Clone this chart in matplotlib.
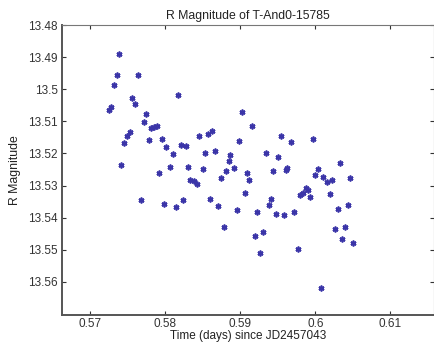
import matplotlib
matplotlib.use('Agg')
import matplotlib.pyplot as plt

# time (days since JD2457043) and R magnitude
time = [0.5739, 0.5736, 0.5764, 0.5732, 0.5756, 0.5760, 0.5818, 0.5725, 0.5728, 0.5775,
        0.5903, 0.5772, 0.5782, 0.5785, 0.5789, 0.5916, 0.5753, 0.5750, 0.5746, 0.5779,
        0.5796, 0.5845, 0.5857, 0.5863, 0.5899, 0.5954, 0.5968, 0.5997, 0.5802, 0.5821,
        0.5828, 0.5811, 0.5853, 0.5867, 0.5887, 0.5885, 0.5934, 0.5951, 0.5742, 0.5807,
        0.5831, 0.5850, 0.5892, 0.5963, 0.5961, 0.6033, 0.6004, 0.5792, 0.5881, 0.5909,
        0.5944, 0.6000, 0.6010, 0.6015, 0.6022, 0.6046, 0.5874, 0.5912, 0.5833, 0.5838,
        0.5842, 0.5906, 0.5988, 0.5990, 0.5984, 0.5980, 0.5993, 0.6019, 0.5768, 0.5860,
        0.5824, 0.5941, 0.5938, 0.5799, 0.5815, 0.5871, 0.6044, 0.5896, 0.5923, 0.6030,
        0.5948, 0.5958, 0.5972, 0.5878, 0.5920, 0.5930, 0.5927, 0.5977, 0.6026, 0.6040,
        0.6036, 0.6050, 0.6008]
rmag = [13.4891, 13.4957, 13.4955, 13.4988, 13.5027, 13.5046, 13.5019, 13.5064, 13.5056, 13.5077,
        13.5071, 13.5101, 13.5121, 13.5119, 13.5114, 13.5116, 13.5134, 13.5145, 13.5166, 13.5157,
        13.5155, 13.5147, 13.5139, 13.5130, 13.5162, 13.5147, 13.5163, 13.5156, 13.5181, 13.5173,
        13.5177, 13.5202, 13.5199, 13.5192, 13.5206, 13.5223, 13.5199, 13.5212, 13.5235, 13.5243,
        13.5241, 13.5249, 13.5245, 13.5246, 13.5251, 13.5229, 13.5247, 13.5262, 13.5255, 13.5261,
        13.5256, 13.5266, 13.5273, 13.5288, 13.5282, 13.5277, 13.5277, 13.5283, 13.5283, 13.5285,
        13.5295, 13.5324, 13.5308, 13.5315, 13.5322, 13.5329, 13.5337, 13.5327, 13.5344, 13.5341,
        13.5346, 13.5341, 13.5359, 13.5358, 13.5367, 13.5365, 13.5359, 13.5375, 13.5381, 13.5373,
        13.5387, 13.5391, 13.5383, 13.5429, 13.5458, 13.5446, 13.5511, 13.5497, 13.5435, 13.5429,
        13.5467, 13.5480, 13.5619]

xticks = [0.57, 0.58, 0.59, 0.60, 0.61]
xtick_labels = ['0.57', '0.58', '0.59', '0.6', '0.61']
yticks = [13.48, 13.49, 13.50, 13.51, 13.52, 13.53, 13.54, 13.55, 13.56]
ytick_labels = ['13.48', '13.49', '13.5', '13.51', '13.52', '13.53', '13.54', '13.55', '13.56']

plt.rcParams['font.family'] = ['Liberation Sans', 'DejaVu Sans']

fig = plt.figure(figsize=(4.35, 3.47), dpi=100)
ax = fig.add_axes([62/435, 1 - 315/347, 372/435, 290/347])

# matlab style asterisk markers
ax.plot(time, rmag, linestyle='none', marker=(6, 2, 0), markersize=4.2,
        color='#3b35a8', markeredgewidth=1.2)

ax.set_xlim(0.5663, 0.6158)
ax.set_ylim(13.5703, 13.48)
ax.set_xticks(xticks)
ax.set_xticklabels(xtick_labels)
ax.set_yticks(yticks)
ax.set_yticklabels(ytick_labels)
ax.tick_params(direction='in', top=True, right=True, length=3, width=0.8,
               labelsize=8.5, colors='#333333', pad=3)
ax.tick_params(axis='x', pad=2)
for side in ['left', 'bottom']:
    ax.spines[side].set_linewidth(1.4)
    ax.spines[side].set_color('#555555')
for side in ['top', 'right']:
    ax.spines[side].set_linewidth(0.8)
    ax.spines[side].set_color('#777777')

ax.set_title('R Magnitude of T-And0-15785', fontsize=8.8, color='#222222', pad=4)
ax.set_xlabel('Time (days) since JD2457043', fontsize=8.5, color='#222222', labelpad=0)
ax.set_ylabel('R Magnitude', fontsize=8.8, color='#222222', labelpad=5)

fig.savefig('out.png', dpi=100)
